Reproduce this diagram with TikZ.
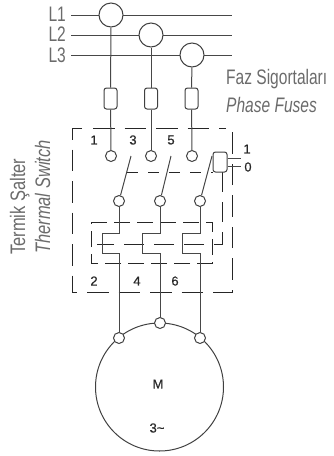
\documentclass[tikz,border=0pt]{standalone}
\usepackage{fontspec}
\setmainfont{Liberation Sans}
\newfontfamily\narrowf[FakeStretch=0.74]{Liberation Sans}
\newfontfamily\numf[FakeBold=0.5]{Liberation Sans}
\begin{document}
\begin{tikzpicture}[x=1pt,y=-1pt,
  wire/.style={draw=black!72,line width=1pt},
  dashbox/.style={draw=black!85,line width=1pt,dash pattern=on 21.5pt off 10pt},
  bigring/.style={circle,draw=black!75,fill=white,line width=1pt,minimum size=24pt,inner sep=0pt},
  ring/.style={circle,draw=black!75,fill=white,line width=1pt,minimum size=11pt,inner sep=0pt},
  fuse/.style={rectangle,rounded corners=2.5pt,draw=black!75,fill=white,line width=1pt,minimum width=13pt,minimum height=21pt,inner sep=0pt},
  grayt/.style={text=black!58,font=\narrowf\fontsize{21}{21}\selectfont,inner sep=0pt},
  num/.style={text=black!85,font=\numf\fontsize{13}{13}\selectfont,inner sep=0pt}]
\useasboundingbox (0,0) rectangle (333,456);
\coordinate (l1s) at (71,15); \coordinate (l1e) at (232,15);
\coordinate (l2s) at (71,35); \coordinate (l2e) at (232,35);
\coordinate (l3s) at (71,55); \coordinate (l3e) at (232,55);
\draw[wire] (l1s)--(l1e); \draw[wire] (l2s)--(l2e); \draw[wire] (l3s)--(l3e);
% outer dashed
\draw[dashbox] (82,128)--(72,128)--(72,292)--(232,292)--(232,128)--(222,128);
\draw[dashbox] (93,128)--(222,128);
% inner dashed
\draw[dashbox,dash pattern=on 16pt off 7pt] (91,222)--(212,222)--(212,263)--(91,263)--cycle;
% links
\draw[dashbox,dash pattern=on 11pt off 10pt] (127,172)--(213,172);
\draw[dashbox,dash pattern=on 20pt off 10pt] (222,172)--(222,244)--(97,244);
% nodes
\node[bigring] (c1) at (111,15) {};
\node[bigring] (c2) at (151,35) {};
\node[bigring] (c3) at (192,55) {};
\node[fuse] (f1) at (110.5,98.5) {};
\node[fuse] (f2) at (151,98.5) {};
\node[fuse] (f3) at (191.5,98.5) {};
\node[ring] (u1) at (111,156) {};
\node[ring] (u2) at (151,156) {};
\node[ring] (u3) at (192,156) {};
\node[ring] (d1) at (119,201) {};
\node[ring] (d2) at (160,201) {};
\node[ring] (d3) at (200,201) {};
\node[circle,draw=black!75,line width=1pt,minimum size=128pt,inner sep=0pt] (motor) at (159.5,387) {};
\node[ring] (m1) at (119,338) {};
\node[ring] (m2) at (160,323) {};
\node[ring] (m3) at (200,338) {};
\node[rectangle,rounded corners=2.5pt,draw=black!75,line width=1pt,fill=white,minimum width=14pt,minimum height=20pt,inner sep=0pt] (sw) at (220,162) {};
% wires
\draw[wire] (c1)--(f1); \draw[wire] (c2)--(f2); \draw[wire] (c3)--(f3);
\draw[wire] (f1)--(u1); \draw[wire] (f2)--(u2); \draw[wire] (f3)--(u3);
\draw[wire] (d1.south)|-(102,233)|-(119,253)--(m1.north);
\draw[wire] (d2.south)|-(142,233)|-(160,253)--(m2.north);
\draw[wire] (d3.south)|-(182,233)|-(200,253)--(m3.north);
\coordinate (b1) at (131,156); \coordinate (b2) at (171,156); \coordinate (b3) at (212,156);
\draw[wire] (d1)--(b1); \draw[wire] (d2)--(b2); \draw[wire] (d3)--(b3);
\coordinate (s1) at (241,158); \coordinate (s0) at (241,166);
\draw[wire] (sw.east|-s1)--(s1); \draw[wire] (sw.east|-s0)--(s0);
% text
\node[grayt,anchor=east] (tl1) at (66,14) {L1};
\node[grayt,anchor=east] (tl2) at (66,34) {L2};
\node[grayt,anchor=east] (tl3) at (66,55) {L3};
\node[grayt,anchor=west] (tf) at (226,79) {Faz Sigortaları};
\node[grayt,anchor=west] (tp) at (226,105) {\itshape Phase Fuses};
\node[grayt,rotate=90,anchor=base west,xscale=1.06] (tt) at (25,255) {Termik Şalter};
\node[grayt,rotate=90,anchor=base west,xscale=1.06] (ts) at (50,254) {\itshape Thermal Switch};
\node[num] (n1) at (94,140) {1}; \node[num] (n3) at (133,140) {3}; \node[num] (n5) at (171,140) {5};
\node[num] (n2) at (94,281) {2}; \node[num] (n4) at (137,281) {4}; \node[num] (n6) at (175,281) {6};
\node[num] (o1) at (247,149) {1}; \node[num] (o0) at (248,167) {0};
\node[num] (mm) at (158,384) {M}; \node[num] (m3t) at (157,428) {3\char`~};
\end{tikzpicture}
\end{document}
